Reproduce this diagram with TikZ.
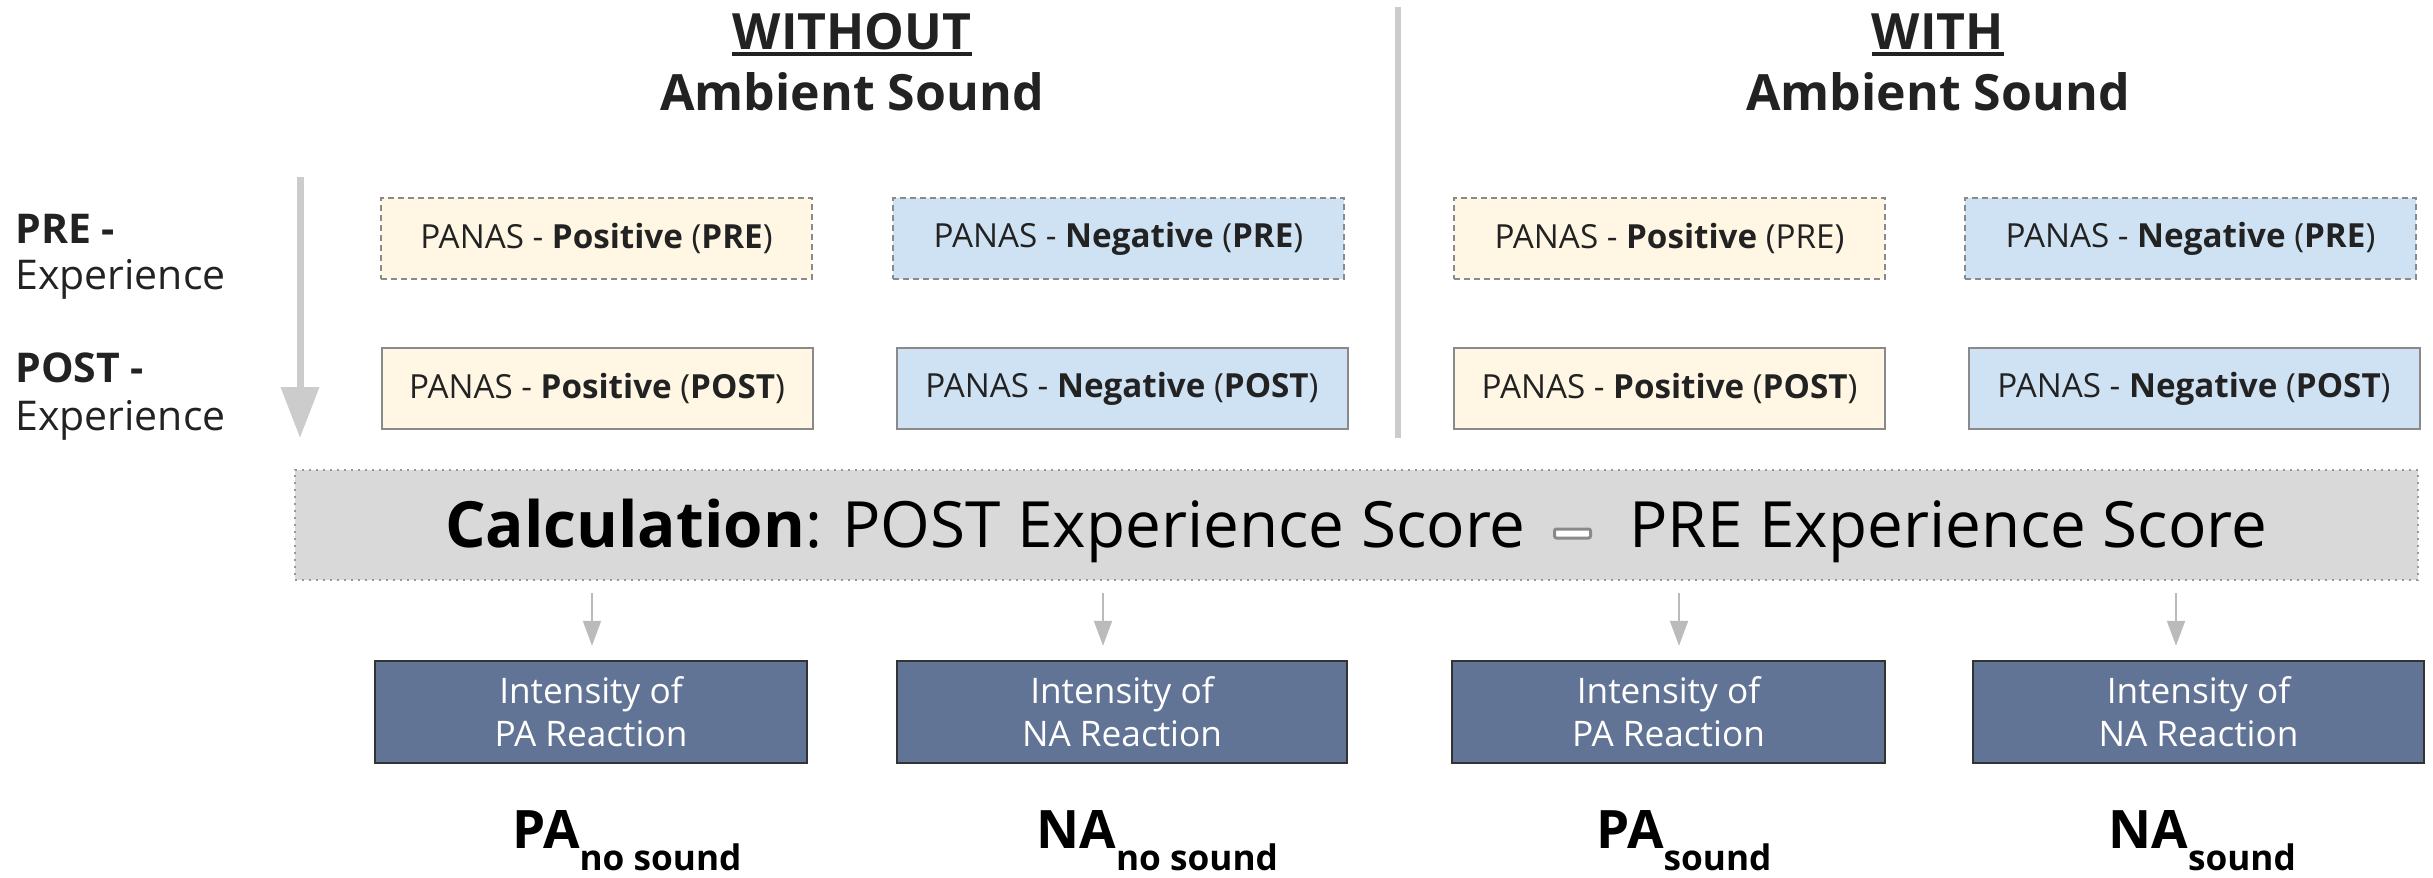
\documentclass[tikz,border=0pt]{standalone}
\usepackage{fontspec}
\setmainfont{Open Sans}
\usetikzlibrary{arrows.meta,calc}
\definecolor{ink}{HTML}{222222}
\definecolor{cream}{HTML}{FFF7E4}
\definecolor{sky}{HTML}{CFE2F3}
\definecolor{frame}{HTML}{8A8A8A}
\definecolor{calcfill}{HTML}{D9D9D9}
\definecolor{calcedge}{HTML}{999999}
\definecolor{slate}{HTML}{627496}
\definecolor{slateedge}{HTML}{333333}
\definecolor{guide}{HTML}{CCCCCC}
\definecolor{pointer}{HTML}{BBBBBB}
\begin{document}
\begin{tikzpicture}[x=0.5pt,y=-0.5pt,
  panas/.style={draw=frame,line width=1pt,inner sep=0pt,text=ink,
    font=\fontsize{16.6}{19}\selectfont},
  prebox/.style={panas,dash pattern=on 3pt off 2pt},
  postbox/.style={panas},
  posfill/.style={fill=cream},
  negfill/.style={fill=sky},
  narrowbox/.style={minimum width=215.5pt,minimum height=40.5pt},
  widebox/.style={minimum width=225.5pt,minimum height=40.5pt},
  heading/.style={inner sep=0pt,text=ink,font=\fontsize{25}{30}\bfseries},
  sidelabel/.style={inner sep=0pt,anchor=base west,text=ink,font=\fontsize{20.5}{24}\selectfont},
  calcbox/.style={fill=calcfill,draw=calcedge,line width=1pt,dash pattern=on 1pt off 2.5pt,
    minimum width=1061.5pt,minimum height=55pt,inner sep=0pt},
  calctext/.style={inner sep=0pt,text=black,font=\fontsize{31.9}{36}\selectfont},
  result/.style={fill=slate,draw=slateedge,line width=1.2pt,text=white,align=center,
    minimum height=51pt,inner sep=0pt,font=\fontsize{17.6}{21.5}\selectfont},
  score/.style={inner sep=0pt,anchor=base west,text=black,font=\fontsize{26.5}{30}\bfseries},
  drop/.style={draw=pointer,line width=1pt,-{Triangle[length=12.5pt,width=9pt]}},
  timeline/.style={draw=guide,line width=3.5pt,-{Triangle[length=25.5pt,width=18.5pt]}},
  divider/.style={draw=guide,line width=3pt},
]
\useasboundingbox (0,0) rectangle (2433,878);

% column headings
\node[heading,anchor=base] (woTitle) at (852,49) {WITHOUT};
\draw[ink,line width=2pt] ($(woTitle.base west)+(0,5)$) -- ($(woTitle.base east)+(0,5)$);
\node[heading,anchor=base] (woSub) at (852,110) {Ambient Sound};
\node[heading,anchor=base] (wTitle) at (1938,49) {WITH};
\draw[ink,line width=2pt] ($(wTitle.base west)+(0,5)$) -- ($(wTitle.base east)+(0,5)$);
\node[heading,anchor=base] (wSub) at (1938,110) {Ambient Sound};

% separator between the two conditions
\coordinate (divTop) at (1398,7);
\coordinate (divBot) at (1398,438);
\draw[divider] (divTop) -- (divBot);

% time axis on the left
\coordinate (timeTop) at (300,177);
\coordinate (timeEnd) at (300,438);
\draw[timeline] (timeTop) -- (timeEnd);
\node[sidelabel,font=\fontsize{20.5}{24}\bfseries] (preLbl) at (15,243) {PRE -};
\node[sidelabel] (preExp) at (15,289) {Experience};
\node[sidelabel,font=\fontsize{20.5}{24}\bfseries] (postLbl) at (15,382) {POST -};
\node[sidelabel] (postExp) at (15,430) {Experience};

% questionnaire boxes: pre (dashed) and post (solid)
\node[prebox,posfill,narrowbox] (preA) at (596.5,238.5) {PANAS - \textbf{Positive} (\textbf{PRE})};
\node[prebox,negfill,widebox] (preB) at (1118.5,238.5) {PANAS - \textbf{Negative} (\textbf{PRE})};
\node[prebox,posfill,narrowbox] (preC) at (1669.5,238.5) {PANAS - \textbf{Positive} (PRE)};
\node[prebox,negfill,widebox] (preD) at (2190.5,238.5) {PANAS - \textbf{Negative} (\textbf{PRE})};

\node[postbox,posfill,narrowbox] (postA) at (597,388.5) {PANAS - \textbf{Positive} (\textbf{POST})};
\node[postbox,negfill,widebox] (postB) at (1122,388.5) {PANAS - \textbf{Negative} (\textbf{POST})};
\node[postbox,posfill,narrowbox] (postC) at (1669.5,388.5) {PANAS - \textbf{Positive} (\textbf{POST})};
\node[postbox,negfill,widebox] (postD) at (2194,388.5) {PANAS - \textbf{Negative} (\textbf{POST})};

% difference calculation
\node[calcbox] (calc) at (1356.5,525) {};
\node[calctext,anchor=base east] (calcL) at (1526,547) {\textbf{Calculation}:\hspace{0.32em}POST Experience Score};
\node[fill=white,draw=frame,line width=1.5pt,rounded corners=1pt,minimum width=18pt,minimum height=4.5pt,inner sep=0pt] (minus) at (1572.5,533.5) {};
\node[calctext,anchor=base west] (calcR) at (1629,547) {PRE Experience Score};

% resulting reaction intensities
\node[result,minimum width=216pt] (outA) at (591,712) {Intensity of\\PA Reaction};
\node[result,minimum width=225pt] (outB) at (1122,712) {Intensity of\\NA Reaction};
\node[result,minimum width=216.5pt] (outC) at (1668.5,712) {Intensity of\\PA Reaction};
\node[result,minimum width=225.5pt] (outD) at (2198.5,712) {Intensity of\\NA Reaction};

\coordinate (dropA) at (592,580);
\coordinate (dropB) at (1103,580);
\coordinate (dropC) at (1679,580);
\coordinate (dropD) at (2176,580);
\draw[drop,shorten <=6.5pt,shorten >=7pt] (dropA) -- (dropA |- outA.north);
\draw[drop,shorten <=6.5pt,shorten >=7pt] (dropB) -- (dropB |- outB.north);
\draw[drop,shorten <=6.5pt,shorten >=7pt] (dropC) -- (dropC |- outC.north);
\draw[drop,shorten <=6.5pt,shorten >=7pt] (dropD) -- (dropD |- outD.north);

% score symbols
\newcommand\lowidx[1]{\raisebox{-11pt}{\fontsize{17.6}{19}\bfseries #1}}
\node[score] (scoreA) at (512,848) {PA\lowidx{no sound}};
\node[score] (scoreB) at (1036,848) {NA\lowidx{no sound}};
\node[score] (scoreC) at (1596,848) {PA\lowidx{sound}};
\node[score] (scoreD) at (2108,848) {NA\lowidx{sound}};
\end{tikzpicture}
\end{document}
